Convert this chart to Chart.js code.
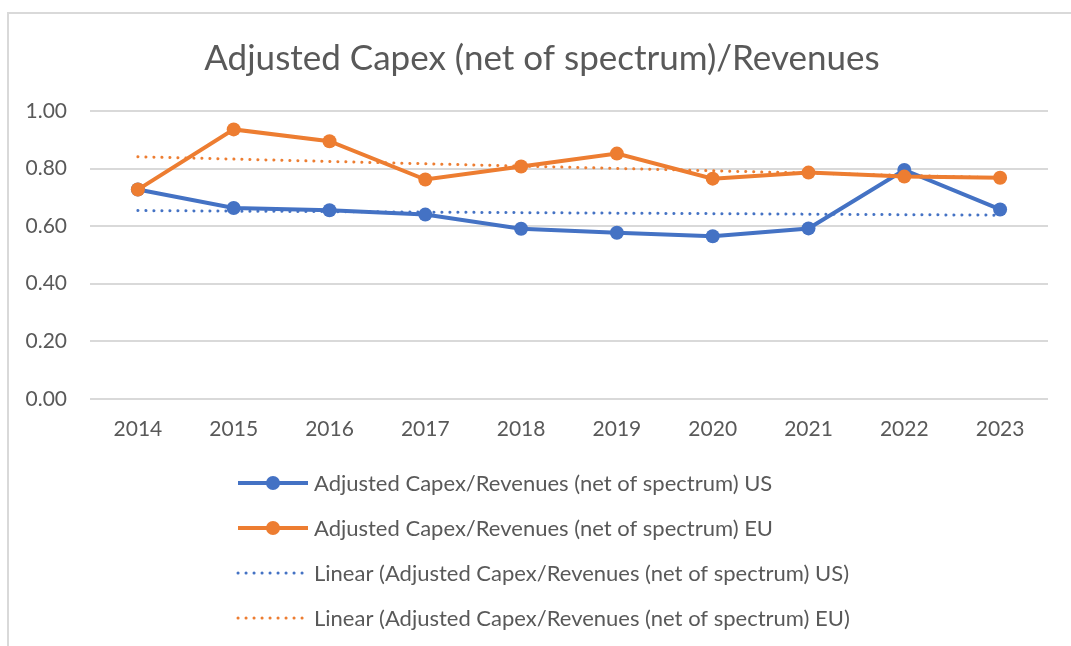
<!doctype html>
<html>
<head>
	<title>Adjusted Capex/Revenues</title>
	<script src="https://cdn.jsdelivr.net/npm/chart.js@4.4.0/dist/chart.umd.min.js"></script>
	<style>
		body { margin: 0; background: #fff; }
		#frame { position: absolute; left: 7px; top: 12px; width: 1100px; height: 700px; border: 2px solid #d9d9d9; }
		#chart-area { position: absolute; left: 0; top: 0; }
	</style>
</head>
<body>
	<div id="frame"></div>
	<canvas id="chart-area" width="1071" height="646"></canvas>
	<script>
		// values
		var years = ['2014', '2015', '2016', '2017', '2018', '2019', '2020', '2021', '2022', '2023'];
		var usValues = [0.727, 0.663, 0.655, 0.640, 0.591, 0.577, 0.565, 0.592, 0.795, 0.658];
		var euValues = [0.727, 0.936, 0.895, 0.762, 0.807, 0.852, 0.765, 0.786, 0.772, 0.768];
		// trendline end points (first and last year)
		var usTrend = [0.654, 0.638];
		var euTrend = [0.841, 0.768];
		var yTicks = [0, 0.2, 0.4, 0.6, 0.8, 1.0];

		var blue = '#4472C4';
		var orange = '#ED7D31';
		var textColor = '#595959';
		var fontName = 'Lato';

		function trendPoints(ends) {
			return [{ x: years[0], y: ends[0] }, { x: years[years.length - 1], y: ends[1] }];
		}

		// legend stacked under the plot, left aligned like the Excel one
		var listLegend = {
			id: 'listLegend',
			afterDraw: function(chart) {
				var ctx = chart.ctx;
				ctx.save();
				ctx.font = '22px ' + fontName;
				ctx.textBaseline = 'middle';
				chart.data.datasets.forEach(function(ds, i) {
					var y = 483 + i * 45;
					var x0 = 238, x1 = 308;
					ctx.strokeStyle = ds.borderColor;
					ctx.lineWidth = ds.borderWidth;
					ctx.lineCap = ds.borderCapStyle || 'butt';
					ctx.setLineDash(ds.borderDash || []);
					ctx.beginPath();
					ctx.moveTo(x0, y);
					ctx.lineTo(x1, y);
					ctx.stroke();
					ctx.setLineDash([]);
					if (ds.pointRadius > 0) {
						ctx.fillStyle = ds.borderColor;
						ctx.beginPath();
						ctx.arc((x0 + x1) / 2, y, ds.pointRadius, 0, Math.PI * 2);
						ctx.fill();
					}
					ctx.fillStyle = textColor;
					ctx.fillText(ds.label, 314, y + 1);
				});
				ctx.restore();
			}
		};

		var config = {
			type: 'line',
			data: {
				labels: years,
				datasets: [{
					label: 'Adjusted Capex/Revenues (net of spectrum) US',
					data: usValues,
					borderColor: blue,
					backgroundColor: blue,
					borderWidth: 4,
					pointRadius: 7,
					pointBorderWidth: 0,
					order: 3
				}, {
					label: 'Adjusted Capex/Revenues (net of spectrum) EU',
					data: euValues,
					borderColor: orange,
					backgroundColor: orange,
					borderWidth: 4,
					pointRadius: 7,
					pointBorderWidth: 0,
					order: 2
				}, {
					label: 'Linear (Adjusted Capex/Revenues (net of spectrum) US)',
					data: trendPoints(usTrend),
					borderColor: blue,
					borderWidth: 3,
					borderDash: [0.1, 7.9],
					borderCapStyle: 'round',
					pointRadius: 0,
					order: 4
				}, {
					label: 'Linear (Adjusted Capex/Revenues (net of spectrum) EU)',
					data: trendPoints(euTrend),
					borderColor: orange,
					borderWidth: 3,
					borderDash: [0.1, 7.9],
					borderCapStyle: 'round',
					pointRadius: 0,
					order: 5
				}]
			},
			options: {
				responsive: false,
				animation: false,
				layout: { padding: { left: 13, right: 0, top: 0, bottom: 186 } },
				plugins: {
					legend: { display: false },
					tooltip: { enabled: false },
					title: {
						display: true,
						text: 'Adjusted Capex (net of spectrum)/Revenues',
						color: textColor,
						font: { family: fontName, size: 35, weight: 'normal' },
						padding: { top: 38, bottom: 31 }
					}
				},
				scales: {
					x: {
						offset: true,
						grid: { display: false, drawTicks: false },
						border: { display: false },
						ticks: {
							color: textColor,
							font: { family: fontName, size: 21 },
							padding: 18,
							maxRotation: 0
						}
					},
					y: {
						min: 0,
						max: 1,
						afterBuildTicks: function(s) {
							s.ticks = yTicks.map(function(v) { return { value: v }; });
						},
						grid: { color: '#d9d9d9', lineWidth: 2, drawTicks: false },
						border: { display: false },
						ticks: {
							color: textColor,
							font: { family: fontName, size: 21 },
							padding: 23,
							callback: function(v) { return Number(v).toFixed(2); }
						},
						afterFit: function(s) { s.width = 77; }
					},
					// empty right margin axis, keeps the plot where Excel put it
					yRight: {
						position: 'right',
						min: 0,
						max: 1,
						grid: { display: false, drawTicks: false },
						border: { display: false },
						ticks: { display: false },
						afterFit: function(s) { s.width = 23; }
					}
				}
			},
			plugins: [listLegend]
		};

		window.onload = function() {
			var ctx = document.getElementById('chart-area').getContext('2d');
			window.myLine = new Chart(ctx, config);
		};
	</script>
</body>
</html>
